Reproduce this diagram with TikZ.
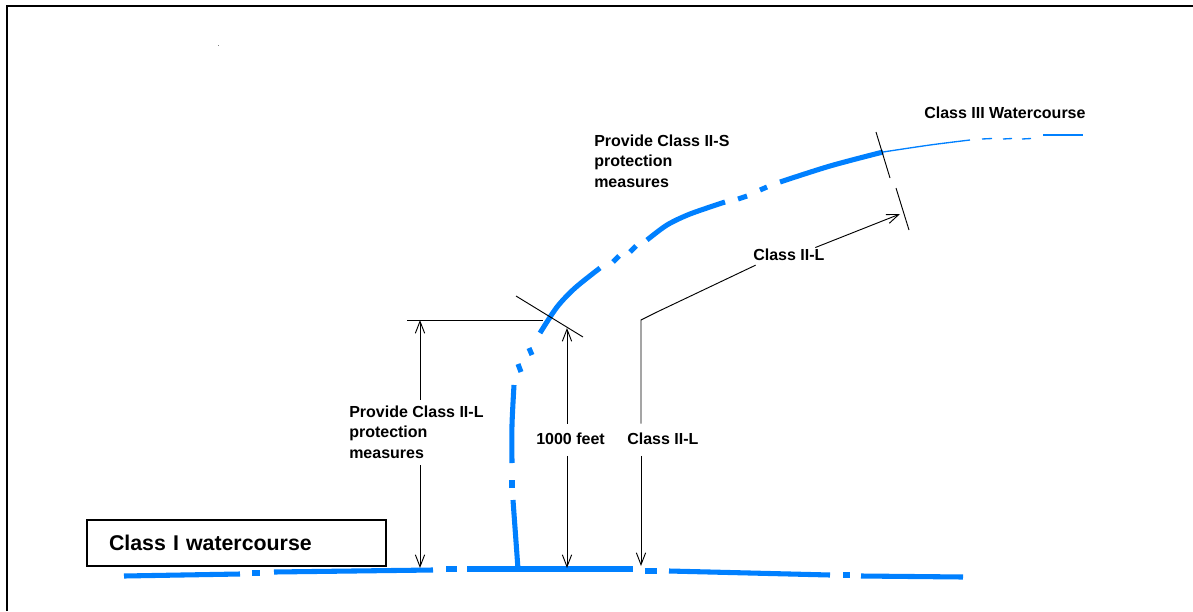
\documentclass[tikz,border=0pt]{standalone}
\usepackage{fontspec}
\setmainfont{Liberation Sans}
\usetikzlibrary{arrows.meta}
\definecolor{wblue}{RGB}{0,128,255}
\tikzset{
  water/.style={draw=wblue, line width=3.8pt},
  waterthin/.style={draw=wblue, line width=1pt},
  dimline/.style={draw=black, line width=0.7pt},
  dimarrow/.style={dimline, -{Straight Barb[length=9pt,width=7pt]}},
  lbl/.style={font=\fontsize{12}{15.4}\selectfont\bfseries, align=left, inner sep=0pt, anchor=west},
  classbox/.style={draw, line width=1.5pt, anchor=north west, minimum width=224.25pt,
    minimum height=34.5pt, text width=191.25pt, inner xsep=16.5pt, inner ysep=0pt,
    align=left, font=\fontsize{16}{19}\selectfont\bfseries},
}
\begin{document}
\begin{tikzpicture}[x=0.75pt,y=-0.75pt]
  \useasboundingbox (0,0) rectangle (1193,611);

  % frame (top and left edge only)
  \draw[line width=1.5pt] (7,611) -- (7,6) -- (1193,6);
  \fill[gray] (217.5,44.5) rectangle ++(1.5,1.5);

  % Class I watercourse (bottom line)
  \foreach \xa/\ya/\xb/\yb in {124/576/240/574, 252/573/260/573, 274/572/433/570,
      446/569/457/569, 467/569/633/569, 645/571/657/571, 669/571/830/575,
      843/575/850/575, 861/576/963/577}
    \draw[water] (\xa,\ya) -- (\xb,\yb);
  \node[classbox] (boxI) at (86,519) {Class I watercourse};

  % branch going up (Class II-S part)
  \draw[water] (518,569) -- (513,500);
  \draw[water] (512,488) -- (512,480);
  \draw[water] plot[smooth] coordinates {(512,463) (512,425) (514,385)};
  \draw[water] (518,364) -- (521,372);
  \draw[water] (529,348) -- (532,355);
  \draw[water] plot[smooth] coordinates {(540,333) (557,307) (575,288) (600,268)};
  \draw[water] (613,262) -- (619,256);
  \draw[water] (630,252) -- (636,246);
  \draw[water] plot[smooth] coordinates {(647,240) (667,225) (690,214) (725,202)};
  \draw[water] (738,199) -- (747,196);
  \draw[water] (760,190) -- (767,187);
  \draw[water] plot[smooth] coordinates {(780,182) (830,166) (883,152)};

  % Class III watercourse (thin)
  \draw[waterthin] plot[smooth] coordinates {(883,152) (930,145) (970,140)};
  \foreach \xa/\xb in {982/992, 1003/1012, 1022/1031}
    \draw[waterthin] (\xa,139) -- (\xb,138.5);
  \draw[waterthin] (1043,135) -- (1083,135);

  % labels
  \node[lbl] (provS) at (594,161) {Provide Class II-S\\protection\\measures};
  \node[lbl] (classIII) at (924,113) {Class III Watercourse};
  \node[lbl] (clsLup) at (753,255) {Class II-L};
  \node[lbl] (provL) at (349,432) {Provide Class II-L\\protection\\measures};
  \node[lbl] (feet) at (536,439) {1000 feet};
  \node[lbl] (clsLlow) at (627,439) {Class II-L};

  % ticks across the stream
  \draw[dimline] (516,296) -- (583,337);
  \draw[dimline] (876,132) -- (890,178);
  \draw[dimline] (896,188) -- (909,230);

  % dimension points
  \coordinate (topL) at (420,320);
  \coordinate (baseL) at (420,568);
  \coordinate (topF) at (567,328);
  \coordinate (baseF) at (567,568);
  \coordinate (bendC) at (641,320);
  \coordinate (baseC) at (641,566);
  \coordinate (tipC) at (900,214);

  % Provide Class II-L
  \draw[dimline] (407,320) -- (543,320);
  \draw[dimarrow] ([yshift=4pt]provL.north -| topL) -- (topL);
  \draw[dimarrow] ([yshift=-5pt]provL.south -| baseL) -- (baseL);

  % 1000 feet
  \draw[dimarrow] ([yshift=7pt]feet.north -| topF) -- (topF);
  \draw[dimarrow] ([yshift=-8pt]feet.south -| baseF) -- (baseF);

  % Class II-L leaders
  \draw[dimline] ([xshift=2pt,yshift=-3pt]clsLup.south west) -- (657,312) -- (bendC)
    -- ([yshift=7pt]clsLlow.north -| bendC);
  \draw[dimarrow] ([yshift=-8pt]clsLlow.south -| baseC) -- (baseC);
  \draw[dimarrow] ([xshift=-7pt,yshift=1pt]clsLup.north east) -- (tipC);
\end{tikzpicture}
\end{document}
